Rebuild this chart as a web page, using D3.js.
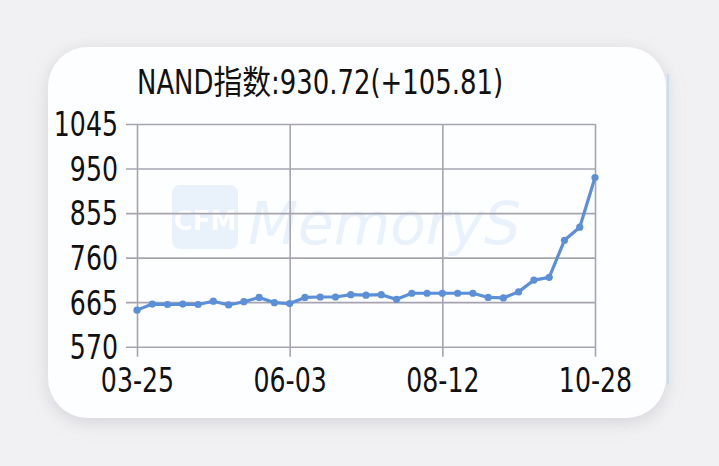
<!DOCTYPE html>
<html><head><meta charset="utf-8">
<script src="https://cdn.jsdelivr.net/npm/d3@7"></script>
<style>
html,body{margin:0;padding:0;background:#f1f1f3;}
svg{display:block;}
</style></head>
<body>
<svg id="c" width="719" height="466"></svg>
<script>
const dates = ["03-25","04-01","04-08","04-15","04-22","04-29","05-06","05-13","05-20","05-27",
  "06-03","06-10","06-17","06-24","07-01","07-08","07-15","07-22","07-29","08-05",
  "08-12","08-19","08-26","09-02","09-09","09-16","09-23","09-30","10-14","10-21","10-28"];
const values = [648,661,660,661,660,667,659,666,675,664,
  662,675,676,676,681,680,681,671,684,684,
  684,684,684,675,674,687,712,718,797,824.91,930.72];
const yTicks = [570,665,760,855,950,1045];
const xTickLabels = ["03-25","06-03","08-12","10-28"];
const title = "NAND指数:930.72(+105.81)";

const svg = d3.select("#c");
const defs = svg.append("defs");
const f = defs.append("filter").attr("id","sh").attr("x","-10%").attr("y","-10%").attr("width","120%").attr("height","125%");
f.append("feDropShadow").attr("dx",0).attr("dy",4).attr("stdDeviation",9).attr("flood-color","#9a9aa8").attr("flood-opacity",0.35);

// card
svg.append("rect").attr("x",48).attr("y",47).attr("width",618).attr("height",371)
  .attr("rx",40).attr("ry",40).attr("fill","#fdfeff").attr("filter","url(#sh)");
svg.append("line").attr("x1",668).attr("x2",668).attr("y1",74).attr("y2",384)
  .attr("stroke","#c5def0").attr("stroke-width",2);

// watermark
const wm = svg.append("g").attr("opacity",0.5);
wm.append("rect").attr("x",172).attr("y",185).attr("width",66).attr("height",64).attr("rx",8).attr("fill","#d6e5f6");
wm.append("text").attr("x",205).attr("y",230).attr("text-anchor","middle").attr("font-family","DejaVu Sans").attr("font-weight","bold")
  .attr("font-size",26).attr("fill","#ffffff").text("CFM");
wm.append("text").attr("x",248).attr("y",244).attr("font-family","DejaVu Sans").attr("font-style","italic")
  .attr("font-size",58).attr("fill","#d6e5f6").text("MemoryS");

const x = d3.scalePoint().domain(d3.range(values.length)).range([137,595]);
const y = d3.scaleLinear().domain([570,1045]).range([346.7,124]);
const font = "'DejaVu Sans Condensed',sans-serif";
const gridC = "#a7a4b0";
const squeeze = 0.85;
function narrow(sel){
  sel.each(function(){
    const w = this.getComputedTextLength();
    d3.select(this).attr("textLength", w*squeeze).attr("lengthAdjust","spacingAndGlyphs");
  });
}

// horizontal grid + ticks
const gy = svg.append("g").attr("transform","translate(137,0)")
  .call(d3.axisLeft(y).tickValues(yTicks).tickFormat(d3.format("d")).tickSize(-(595-137)).tickSizeOuter(0).tickPadding(19));
gy.select(".domain").remove();
gy.selectAll(".tick line").attr("x1",-11).attr("stroke",gridC).attr("stroke-width",1.6);
gy.selectAll(".tick text").attr("font-family",font).attr("font-size",33).attr("fill","#111").attr("dy","0.36em").call(narrow);

// vertical grid
const tickIdx = xTickLabels.map(l => dates.indexOf(l));
const gx = svg.append("g").attr("transform","translate(0,"+y(570)+")")
  .call(d3.axisBottom(x).tickValues(tickIdx).tickFormat(i => dates[i]).tickSize(10).tickSizeOuter(0).tickPadding(12));
gx.select(".domain").remove();
gx.selectAll(".tick line").attr("y1",-(y(570)-y(1045))).attr("stroke",gridC).attr("stroke-width",1.6);
gx.selectAll(".tick text").attr("font-family",font).attr("font-size",33).attr("fill","#111").call(narrow);

// line
const line = d3.line().x((d,i)=>x(i)).y(d=>y(d));
svg.append("path").datum(values).attr("d",line).attr("fill","none")
  .attr("stroke","#5b8fd8").attr("stroke-width",3.2).attr("stroke-linejoin","round");
svg.append("g").selectAll("circle").data(values).join("circle")
  .attr("cx",(d,i)=>x(i)).attr("cy",d=>y(d)).attr("r",3.6).attr("fill","#5b8fd8");

// title
svg.append("text").attr("x",137).attr("y",94).attr("font-family",font+",'Noto Sans CJK SC'")
  .attr("font-size",33).attr("fill","#111").attr("textLength",366).attr("lengthAdjust","spacingAndGlyphs").text(title);
</script>
</body></html>
